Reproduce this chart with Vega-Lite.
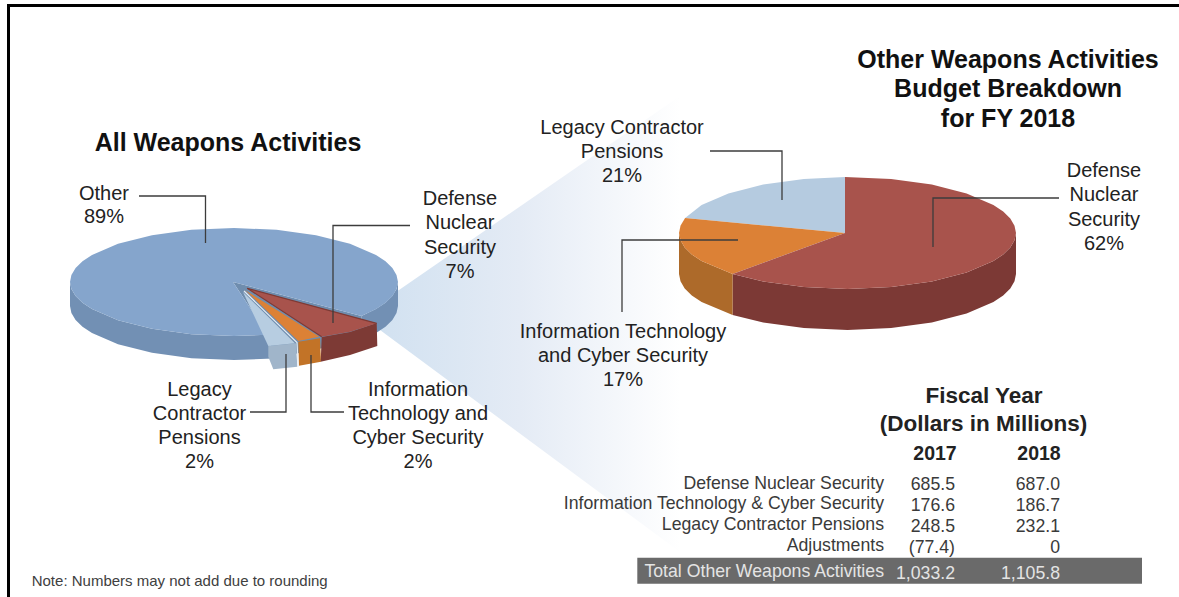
{"$schema":"https://vega.github.io/schema/vega-lite/v6.json","width":1179,"height":597,"padding":0,"autosize":{"type":"none"},"background":"white","config":{"view":{"stroke":null},"text":{"font":"Liberation Sans"}},
"datasets":{
"shapes":[
{"s":"frame","i":0,"x":8.5,"y":597},{"s":"frame","i":1,"x":8.5,"y":5.5},{"s":"frame","i":2,"x":1179,"y":5.5},
{"s":"fan","i":0,"x":360,"y":305},{"s":"fan","i":1,"x":399,"y":290},{"s":"fan","i":2,"x":680,"y":96},{"s":"fan","i":3,"x":680,"y":552},{"s":"fan","i":4,"x":380,"y":330},
{"s":"otherWallL","i":0,"x":70,"y":282},{"s":"otherWallL","i":0.5,"x":71.4,"y":289},{"s":"otherWallL","i":1,"x":75.6,"y":296},{"s":"otherWallL","i":1.5,"x":82.5,"y":302.7},{"s":"otherWallL","i":2,"x":92,"y":309},{"s":"otherWallL","i":3,"x":118,"y":320.2},{"s":"otherWallL","i":4,"x":152,"y":328.8},{"s":"otherWallL","i":5,"x":191.5,"y":334.2},{"s":"otherWallL","i":6,"x":234,"y":336},{"s":"otherWallL","i":7,"x":268,"y":334.8},{"s":"otherWallL","i":8,"x":273,"y":358.6},{"s":"otherWallL","i":9,"x":234,"y":360},{"s":"otherWallL","i":10,"x":191.5,"y":358.2},{"s":"otherWallL","i":11,"x":152,"y":352.8},{"s":"otherWallL","i":12,"x":118,"y":344.2},{"s":"otherWallL","i":13,"x":92,"y":333},{"s":"otherWallL","i":13.5,"x":82.5,"y":326.7},{"s":"otherWallL","i":14,"x":75.6,"y":320},{"s":"otherWallL","i":14.5,"x":71.4,"y":313},{"s":"otherWallL","i":15,"x":70,"y":306},
{"s":"otherWallR","i":0,"x":398,"y":282},{"s":"otherWallR","i":0.5,"x":396.5,"y":289},{"s":"otherWallR","i":1,"x":392.4,"y":296},{"s":"otherWallR","i":1.5,"x":385.5,"y":302.7},{"s":"otherWallR","i":2,"x":376,"y":309},{"s":"otherWallR","i":3,"x":361.4,"y":316},{"s":"otherWallR","i":4,"x":361.4,"y":340},{"s":"otherWallR","i":5,"x":376,"y":333},{"s":"otherWallR","i":5.5,"x":385.5,"y":326.7},{"s":"otherWallR","i":6,"x":392.4,"y":320},{"s":"otherWallR","i":6.5,"x":396.5,"y":313},{"s":"otherWallR","i":7,"x":398,"y":306},
{"s":"innerWall","i":0,"x":233,"y":282},{"s":"innerWall","i":1,"x":361.4,"y":316},{"s":"innerWall","i":2,"x":361.4,"y":340},{"s":"innerWall","i":3,"x":273,"y":358.6},{"s":"innerWall","i":4,"x":268,"y":334.8},
{"s":"otherTop","i":0,"x":233,"y":282},{"s":"otherTop","i":1,"x":361.4,"y":316},{"s":"otherTop","i":2,"x":376,"y":309},{"s":"otherTop","i":2.5,"x":385.5,"y":302.7},{"s":"otherTop","i":3,"x":392.4,"y":296},{"s":"otherTop","i":3.5,"x":396.5,"y":289},{"s":"otherTop","i":4,"x":398,"y":282},{"s":"otherTop","i":4.5,"x":396.5,"y":275},{"s":"otherTop","i":5,"x":392.4,"y":268},{"s":"otherTop","i":5.5,"x":385.5,"y":261.3},{"s":"otherTop","i":6,"x":376,"y":255},{"s":"otherTop","i":7,"x":350,"y":243.8},{"s":"otherTop","i":8,"x":316,"y":235.2},{"s":"otherTop","i":9,"x":276.5,"y":229.8},{"s":"otherTop","i":10,"x":234,"y":228},{"s":"otherTop","i":11,"x":191.5,"y":229.8},{"s":"otherTop","i":12,"x":152,"y":235.2},{"s":"otherTop","i":13,"x":118,"y":243.8},{"s":"otherTop","i":14,"x":92,"y":255},{"s":"otherTop","i":14.5,"x":82.5,"y":261.3},{"s":"otherTop","i":15,"x":75.6,"y":268},{"s":"otherTop","i":15.5,"x":71.4,"y":275},{"s":"otherTop","i":16,"x":70,"y":282},{"s":"otherTop","i":16.5,"x":71.4,"y":289},{"s":"otherTop","i":17,"x":75.6,"y":296},{"s":"otherTop","i":17.5,"x":82.5,"y":302.7},{"s":"otherTop","i":18,"x":92,"y":309},{"s":"otherTop","i":19,"x":118,"y":320.2},{"s":"otherTop","i":20,"x":152,"y":328.8},{"s":"otherTop","i":21,"x":191.5,"y":334.2},{"s":"otherTop","i":22,"x":234,"y":336},{"s":"otherTop","i":23,"x":268,"y":334.8},
{"s":"legacySide","i":0,"x":268.3,"y":346},{"s":"legacySide","i":1,"x":296,"y":343.3},{"s":"legacySide","i":2,"x":297.3,"y":366.7},{"s":"legacySide","i":3,"x":273.3,"y":369.3},{"s":"legacySide","i":4,"x":268.3,"y":356.7},
{"s":"legacyTop","i":0,"x":243,"y":292},{"s":"legacyTop","i":1,"x":295,"y":343.3},{"s":"legacyTop","i":2,"x":268.3,"y":346},
{"s":"itSide","i":0,"x":298.3,"y":341.7},{"s":"itSide","i":1,"x":320,"y":338.3},{"s":"itSide","i":2,"x":321,"y":361.7},{"s":"itSide","i":3,"x":299,"y":365.7},
{"s":"itTop","i":0,"x":245,"y":290},{"s":"itTop","i":1,"x":319.3,"y":336.7},{"s":"itTop","i":2,"x":298.3,"y":341},
{"s":"dnsSide","i":0,"x":321.7,"y":337},{"s":"dnsSide","i":1,"x":350,"y":332},{"s":"dnsSide","i":2,"x":376.7,"y":323},{"s":"dnsSide","i":3,"x":377.3,"y":346},{"s":"dnsSide","i":4,"x":350,"y":355},{"s":"dnsSide","i":5,"x":320.7,"y":361.7},
{"s":"dnsTop","i":0,"x":247.3,"y":288.3},{"s":"dnsTop","i":1,"x":376.7,"y":323.3},{"s":"dnsTop","i":2,"x":350,"y":331.7},{"s":"dnsTop","i":3,"x":321.7,"y":336.7},
{"s":"rDnsWall","i":0,"x":1016,"y":233},{"s":"rDnsWall","i":0.5,"x":1014.5,"y":240.3},{"s":"rDnsWall","i":1,"x":1010.3,"y":247.5},{"s":"rDnsWall","i":1.5,"x":1003.2,"y":254.4},{"s":"rDnsWall","i":2,"x":993.4,"y":261},{"s":"rDnsWall","i":3,"x":966.6,"y":272.6},{"s":"rDnsWall","i":4,"x":931.8,"y":281.5},{"s":"rDnsWall","i":5,"x":891.1,"y":287.1},{"s":"rDnsWall","i":6,"x":847.5,"y":289},{"s":"rDnsWall","i":7,"x":803.9,"y":287.1},{"s":"rDnsWall","i":8,"x":763.2,"y":281.5},{"s":"rDnsWall","i":9,"x":732.6,"y":273.9},{"s":"rDnsWall","i":10,"x":732.6,"y":314.9},{"s":"rDnsWall","i":11,"x":763.2,"y":322.5},{"s":"rDnsWall","i":12,"x":803.9,"y":328.1},{"s":"rDnsWall","i":13,"x":847.5,"y":330},{"s":"rDnsWall","i":14,"x":891.1,"y":328.1},{"s":"rDnsWall","i":15,"x":931.8,"y":322.5},{"s":"rDnsWall","i":16,"x":966.6,"y":313.6},{"s":"rDnsWall","i":17,"x":993.4,"y":302},{"s":"rDnsWall","i":17.5,"x":1003.2,"y":295.4},{"s":"rDnsWall","i":18,"x":1010.3,"y":288.5},{"s":"rDnsWall","i":18.5,"x":1014.5,"y":281.3},{"s":"rDnsWall","i":19,"x":1016,"y":274},
{"s":"rItWall","i":0,"x":732.6,"y":273.9},{"s":"rItWall","i":1,"x":701.6,"y":261},{"s":"rItWall","i":1.5,"x":691.8,"y":254.4},{"s":"rItWall","i":2,"x":684.7,"y":247.5},{"s":"rItWall","i":2.5,"x":680.5,"y":240.3},{"s":"rItWall","i":3,"x":679,"y":233},{"s":"rItWall","i":4,"x":679,"y":274},{"s":"rItWall","i":4.5,"x":680.5,"y":281.3},{"s":"rItWall","i":5,"x":684.7,"y":288.5},{"s":"rItWall","i":5.5,"x":691.8,"y":295.4},{"s":"rItWall","i":6,"x":701.6,"y":302},{"s":"rItWall","i":7,"x":732.6,"y":314.9},
{"s":"rLegacyTop","i":0,"x":845,"y":233},{"s":"rLegacyTop","i":1,"x":685.1,"y":218.1},{"s":"rLegacyTop","i":2,"x":701.6,"y":205},{"s":"rLegacyTop","i":3,"x":728.4,"y":193.4},{"s":"rLegacyTop","i":4,"x":763.2,"y":184.5},{"s":"rLegacyTop","i":5,"x":803.9,"y":178.9},{"s":"rLegacyTop","i":6,"x":845,"y":177},
{"s":"rItTop","i":0,"x":845,"y":233},{"s":"rItTop","i":1,"x":732.6,"y":273.9},{"s":"rItTop","i":2,"x":701.6,"y":261},{"s":"rItTop","i":2.5,"x":691.8,"y":254.4},{"s":"rItTop","i":3,"x":684.7,"y":247.5},{"s":"rItTop","i":3.5,"x":680.5,"y":240.3},{"s":"rItTop","i":4,"x":679,"y":233},{"s":"rItTop","i":4.5,"x":680.5,"y":225.7},{"s":"rItTop","i":5,"x":685.1,"y":218.1},
{"s":"rDnsTop","i":0,"x":845,"y":233},{"s":"rDnsTop","i":1,"x":845,"y":177},{"s":"rDnsTop","i":2,"x":891.1,"y":178.9},{"s":"rDnsTop","i":3,"x":931.8,"y":184.5},{"s":"rDnsTop","i":4,"x":966.6,"y":193.4},{"s":"rDnsTop","i":5,"x":993.4,"y":205},{"s":"rDnsTop","i":5.5,"x":1003.2,"y":211.6},{"s":"rDnsTop","i":6,"x":1010.3,"y":218.5},{"s":"rDnsTop","i":6.5,"x":1014.5,"y":225.7},{"s":"rDnsTop","i":7,"x":1016,"y":233},{"s":"rDnsTop","i":7.5,"x":1014.5,"y":240.3},{"s":"rDnsTop","i":8,"x":1010.3,"y":247.5},{"s":"rDnsTop","i":8.5,"x":1003.2,"y":254.4},{"s":"rDnsTop","i":9,"x":993.4,"y":261},{"s":"rDnsTop","i":10,"x":966.6,"y":272.6},{"s":"rDnsTop","i":11,"x":931.8,"y":281.5},{"s":"rDnsTop","i":12,"x":891.1,"y":287.1},{"s":"rDnsTop","i":13,"x":847.5,"y":289},{"s":"rDnsTop","i":14,"x":803.9,"y":287.1},{"s":"rDnsTop","i":15,"x":763.2,"y":281.5},{"s":"rDnsTop","i":16,"x":732.6,"y":273.9}
],
"edges":[
{"s":"dnsUpper","i":0,"x":247.3,"y":288.3},{"s":"dnsUpper","i":1,"x":376.7,"y":323.3},
{"s":"dnsLower","i":0,"x":247.3,"y":288.3},{"s":"dnsLower","i":1,"x":321.7,"y":336.7}
],
"gaps":[
{"s":"g1","i":0,"x":244,"y":291},{"s":"g1","i":1,"x":297,"y":342.5},{"s":"g1","i":2,"x":298.2,"y":366.5}
],
"leaders":[
{"s":"a","i":0,"x":139,"y":196},{"s":"a","i":1,"x":205.5,"y":196},{"s":"a","i":2,"x":205.5,"y":243},
{"s":"b","i":0,"x":410,"y":225.5},{"s":"b","i":1,"x":333,"y":225.5},{"s":"b","i":2,"x":333,"y":323},
{"s":"c","i":0,"x":250,"y":412},{"s":"c","i":1,"x":286,"y":412},{"s":"c","i":2,"x":286,"y":354},
{"s":"d","i":0,"x":344,"y":412},{"s":"d","i":1,"x":311,"y":412},{"s":"d","i":2,"x":311,"y":355},
{"s":"e","i":0,"x":710,"y":151},{"s":"e","i":1,"x":782,"y":151},{"s":"e","i":2,"x":782,"y":200},
{"s":"f","i":0,"x":1059,"y":198},{"s":"f","i":1,"x":933,"y":198},{"s":"f","i":2,"x":933,"y":247},
{"s":"g","i":0,"x":622,"y":312},{"s":"g","i":1,"x":622,"y":240},{"s":"g","i":2,"x":738,"y":240}
],
"labels":[
{"t":"Other","x":104,"y":200},{"t":"89%","x":104,"y":223},
{"t":"Defense","x":460,"y":205},{"t":"Nuclear","x":460,"y":229},{"t":"Security","x":460,"y":254},{"t":"7%","x":460,"y":278},
{"t":"Legacy","x":199.5,"y":396},{"t":"Contractor","x":199.5,"y":420},{"t":"Pensions","x":199.5,"y":444},{"t":"2%","x":199.5,"y":468},
{"t":"Information","x":418,"y":396},{"t":"Technology and","x":418,"y":420},{"t":"Cyber Security","x":418,"y":444},{"t":"2%","x":418,"y":468},
{"t":"Legacy Contractor","x":622,"y":134},{"t":"Pensions","x":622,"y":158},{"t":"21%","x":622,"y":182},
{"t":"Defense","x":1104,"y":177},{"t":"Nuclear","x":1104,"y":201},{"t":"Security","x":1104,"y":226},{"t":"62%","x":1104,"y":250},
{"t":"Information Technology","x":623,"y":338},{"t":"and Cyber Security","x":623,"y":362},{"t":"17%","x":623,"y":386}
],
"titles":[
{"t":"All Weapons Activities","x":228,"y":151},
{"t":"Other Weapons Activities","x":1008,"y":68},{"t":"Budget Breakdown","x":1008,"y":97},{"t":"for FY 2018","x":1008,"y":127}
],
"heads":[
{"t":"Fiscal Year","x":984,"y":403,"k":"big"},{"t":"(Dollars in Millions)","x":983.5,"y":431,"k":"big"},
{"t":"2017","x":935,"y":460,"k":"year"},{"t":"2018","x":1039,"y":460,"k":"year"}
],
"rows":[
{"t":"Defense Nuclear Security","x":884,"y":489},{"t":"Information Technology & Cyber Security","x":884,"y":509},{"t":"Legacy Contractor Pensions","x":884,"y":530},{"t":"Adjustments","x":884,"y":551},
{"t":"685.5","x":955,"y":490},{"t":"176.6","x":955,"y":511},{"t":"248.5","x":955,"y":532},{"t":"(77.4)","x":955,"y":553},
{"t":"687.0","x":1060,"y":490},{"t":"186.7","x":1060,"y":511},{"t":"232.1","x":1060,"y":532},{"t":"0","x":1060,"y":553}
],
"totals":[{"t":"Total Other Weapons Activities","x":884,"y":577},{"t":"1,033.2","x":955,"y":579},{"t":"1,105.8","x":1060,"y":579}],
"bar":[{"x":637.3,"x2":1142,"y":557.7,"y2":583.7}],
"note":[{"t":"Note: Numbers may not add due to rounding","x":31.7,"y":586}]
},
"layer":[
{"data":{"name":"shapes"},"transform":[{"filter":"datum.s==='fan'"}],"mark":{"type":"line","strokeWidth":0,"fill":{"x1":0,"y1":0,"x2":1,"y2":0,"gradient":"linear","stops":[{"offset":0,"color":"#cfe0f0"},{"offset":0.5,"color":"#e4ebf5"},{"offset":1,"color":"#ffffff"}]}},"encoding":{"x":{"field":"x","type":"quantitative","scale":{"domain":[0,1179],"nice":false,"zero":false},"axis":null},"y":{"field":"y","type":"quantitative","scale":{"domain":[597,0],"nice":false,"zero":false},"axis":null},"order":{"field":"i"}}},
{"data":{"name":"shapes"},"transform":[{"filter":"datum.s==='otherWallL'"}],"mark":{"type":"line","strokeWidth":0,"fill":"#7290b4"},"encoding":{"x":{"field":"x","type":"quantitative"},"y":{"field":"y","type":"quantitative"},"order":{"field":"i"}}},
{"data":{"name":"shapes"},"transform":[{"filter":"datum.s==='otherWallR'"}],"mark":{"type":"line","strokeWidth":0,"fill":"#7290b4"},"encoding":{"x":{"field":"x","type":"quantitative"},"y":{"field":"y","type":"quantitative"},"order":{"field":"i"}}},
{"data":{"name":"shapes"},"transform":[{"filter":"datum.s==='innerWall'"}],"mark":{"type":"line","strokeWidth":0,"fill":"#6f8dae"},"encoding":{"x":{"field":"x","type":"quantitative"},"y":{"field":"y","type":"quantitative"},"order":{"field":"i"}}},
{"data":{"name":"shapes"},"transform":[{"filter":"datum.s==='otherTop'"}],"mark":{"type":"line","strokeWidth":0,"fill":"#85a5cc"},"encoding":{"x":{"field":"x","type":"quantitative"},"y":{"field":"y","type":"quantitative"},"order":{"field":"i"}}},
{"data":{"name":"shapes"},"transform":[{"filter":"datum.s==='legacySide'"}],"mark":{"type":"line","strokeWidth":0,"fill":"#a0b5ca"},"encoding":{"x":{"field":"x","type":"quantitative"},"y":{"field":"y","type":"quantitative"},"order":{"field":"i"}}},
{"data":{"name":"shapes"},"transform":[{"filter":"datum.s==='legacyTop'"}],"mark":{"type":"line","strokeWidth":0,"fill":"#b7cde1"},"encoding":{"x":{"field":"x","type":"quantitative"},"y":{"field":"y","type":"quantitative"},"order":{"field":"i"}}},
{"data":{"name":"gaps"},"mark":{"type":"line","stroke":"#e6ecf3","strokeWidth":1.2},"encoding":{"x":{"field":"x","type":"quantitative"},"y":{"field":"y","type":"quantitative"},"order":{"field":"i"}}},
{"data":{"name":"shapes"},"transform":[{"filter":"datum.s==='itSide'"}],"mark":{"type":"line","strokeWidth":0,"fill":"#c27327"},"encoding":{"x":{"field":"x","type":"quantitative"},"y":{"field":"y","type":"quantitative"},"order":{"field":"i"}}},
{"data":{"name":"shapes"},"transform":[{"filter":"datum.s==='itTop'"}],"mark":{"type":"line","strokeWidth":0,"fill":"#dc8136"},"encoding":{"x":{"field":"x","type":"quantitative"},"y":{"field":"y","type":"quantitative"},"order":{"field":"i"}}},
{"data":{"name":"shapes"},"transform":[{"filter":"datum.s==='dnsSide'"}],"mark":{"type":"line","strokeWidth":0,"fill":"#7d3a35"},"encoding":{"x":{"field":"x","type":"quantitative"},"y":{"field":"y","type":"quantitative"},"order":{"field":"i"}}},
{"data":{"name":"shapes"},"transform":[{"filter":"datum.s==='dnsTop'"}],"mark":{"type":"line","strokeWidth":0,"fill":"#a8534c"},"encoding":{"x":{"field":"x","type":"quantitative"},"y":{"field":"y","type":"quantitative"},"order":{"field":"i"}}},
{"data":{"name":"edges"},"mark":{"type":"line","stroke":"#7d3a35","strokeWidth":1.2},"encoding":{"x":{"field":"x","type":"quantitative"},"y":{"field":"y","type":"quantitative"},"detail":{"field":"s"},"order":{"field":"i"}}},
{"data":{"name":"shapes"},"transform":[{"filter":"datum.s==='rDnsWall'"}],"mark":{"type":"line","strokeWidth":0,"fill":"#7c3935"},"encoding":{"x":{"field":"x","type":"quantitative"},"y":{"field":"y","type":"quantitative"},"order":{"field":"i"}}},
{"data":{"name":"shapes"},"transform":[{"filter":"datum.s==='rItWall'"}],"mark":{"type":"line","strokeWidth":0,"fill":"#ad6a2a"},"encoding":{"x":{"field":"x","type":"quantitative"},"y":{"field":"y","type":"quantitative"},"order":{"field":"i"}}},
{"data":{"name":"shapes"},"transform":[{"filter":"datum.s==='rLegacyTop'"}],"mark":{"type":"line","strokeWidth":0,"fill":"#b5cbe0"},"encoding":{"x":{"field":"x","type":"quantitative"},"y":{"field":"y","type":"quantitative"},"order":{"field":"i"}}},
{"data":{"name":"shapes"},"transform":[{"filter":"datum.s==='rItTop'"}],"mark":{"type":"line","strokeWidth":0,"fill":"#dc8136"},"encoding":{"x":{"field":"x","type":"quantitative"},"y":{"field":"y","type":"quantitative"},"order":{"field":"i"}}},
{"data":{"name":"shapes"},"transform":[{"filter":"datum.s==='rDnsTop'"}],"mark":{"type":"line","strokeWidth":0,"fill":"#a8534c"},"encoding":{"x":{"field":"x","type":"quantitative"},"y":{"field":"y","type":"quantitative"},"order":{"field":"i"}}},
{"data":{"name":"leaders"},"mark":{"type":"line","stroke":"#3c3c3c","strokeWidth":1.3},"encoding":{"x":{"field":"x","type":"quantitative"},"y":{"field":"y","type":"quantitative"},"detail":{"field":"s"},"order":{"field":"i"}}},
{"data":{"name":"bar"},"mark":{"type":"rect","fill":"#6a6a6a"},"encoding":{"x":{"field":"x","type":"quantitative"},"x2":{"field":"x2"},"y":{"field":"y","type":"quantitative"},"y2":{"field":"y2"}}},
{"data":{"name":"labels"},"mark":{"type":"text","fontSize":20,"align":"center","baseline":"alphabetic","color":"#222222"},"encoding":{"x":{"field":"x","type":"quantitative"},"y":{"field":"y","type":"quantitative"},"text":{"field":"t"}}},
{"data":{"name":"titles"},"mark":{"type":"text","fontSize":25,"fontWeight":"bold","align":"center","baseline":"alphabetic","color":"#111111"},"encoding":{"x":{"field":"x","type":"quantitative"},"y":{"field":"y","type":"quantitative"},"text":{"field":"t"}}},
{"data":{"name":"heads"},"transform":[{"filter":"datum.k==='big'"}],"mark":{"type":"text","fontSize":22.5,"fontWeight":"bold","align":"center","baseline":"alphabetic","color":"#222222"},"encoding":{"x":{"field":"x","type":"quantitative"},"y":{"field":"y","type":"quantitative"},"text":{"field":"t"}}},
{"data":{"name":"heads"},"transform":[{"filter":"datum.k==='year'"}],"mark":{"type":"text","fontSize":19.5,"fontWeight":"bold","align":"center","baseline":"alphabetic","color":"#222222"},"encoding":{"x":{"field":"x","type":"quantitative"},"y":{"field":"y","type":"quantitative"},"text":{"field":"t"}}},
{"data":{"name":"rows"},"mark":{"type":"text","fontSize":17.7,"align":"right","baseline":"alphabetic","color":"#3a3a3a"},"encoding":{"x":{"field":"x","type":"quantitative"},"y":{"field":"y","type":"quantitative"},"text":{"field":"t"}}},
{"data":{"name":"totals"},"mark":{"type":"text","fontSize":17.7,"align":"right","baseline":"alphabetic","color":"#e4e4e4"},"encoding":{"x":{"field":"x","type":"quantitative"},"y":{"field":"y","type":"quantitative"},"text":{"field":"t"}}},
{"data":{"name":"note"},"mark":{"type":"text","fontSize":15,"align":"left","baseline":"alphabetic","color":"#404040"},"encoding":{"x":{"field":"x","type":"quantitative"},"y":{"field":"y","type":"quantitative"},"text":{"field":"t"}}},
{"data":{"name":"shapes"},"transform":[{"filter":"datum.s==='frame'"}],"mark":{"type":"line","stroke":"#000000","strokeWidth":3},"encoding":{"x":{"field":"x","type":"quantitative"},"y":{"field":"y","type":"quantitative"},"order":{"field":"i"}}}
]}
